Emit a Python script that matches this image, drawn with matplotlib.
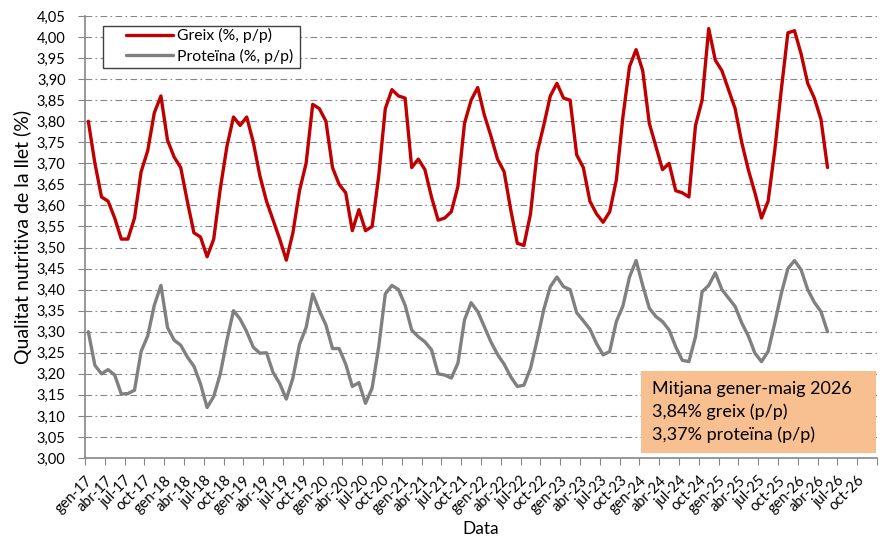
import matplotlib
matplotlib.use('Agg')
from matplotlib import pyplot as plt
from matplotlib.ticker import FuncFormatter
from matplotlib.patches import Rectangle
from matplotlib.transforms import ScaledTranslation

plt.rcParams['font.family'] = ['Lato', 'DejaVu Sans']

# Monthly values, gen-17 .. maig-26
greix = [
    3.80, 3.70, 3.62, 3.61, 3.57, 3.52, 3.52, 3.57, 3.68, 3.73, 3.82, 3.86,
    3.755, 3.715, 3.69, 3.61, 3.535, 3.525, 3.478, 3.52, 3.64, 3.74, 3.81, 3.79,
    3.81, 3.75, 3.67, 3.61, 3.565, 3.52, 3.47, 3.535, 3.635, 3.70, 3.84, 3.83,
    3.80, 3.69, 3.65, 3.63, 3.54, 3.59, 3.54, 3.55, 3.67, 3.83, 3.875, 3.86,
    3.855, 3.69, 3.71, 3.685, 3.62, 3.565, 3.57, 3.585, 3.645, 3.795, 3.85, 3.88,
    3.815, 3.765, 3.71, 3.68, 3.59, 3.51, 3.505, 3.58, 3.725, 3.79, 3.86, 3.89,
    3.855, 3.85, 3.72, 3.69, 3.61, 3.58, 3.56, 3.585, 3.66, 3.81, 3.93, 3.97,
    3.92, 3.795, 3.74, 3.685, 3.70, 3.635, 3.63, 3.62, 3.79, 3.85, 4.02, 3.945,
    3.92, 3.875, 3.83, 3.75, 3.685, 3.63, 3.57, 3.61, 3.73, 3.875, 4.01, 4.015,
    3.96, 3.89, 3.855, 3.805, 3.69,
]
proteina = [
    3.30, 3.22, 3.20, 3.21, 3.197, 3.152, 3.153, 3.161, 3.253, 3.29, 3.363, 3.41,
    3.31, 3.28, 3.268, 3.24, 3.218, 3.176, 3.12, 3.146, 3.20, 3.28, 3.35, 3.33,
    3.30, 3.263, 3.249, 3.25, 3.203, 3.177, 3.14, 3.19, 3.27, 3.31, 3.39, 3.35,
    3.316, 3.26, 3.26, 3.223, 3.17, 3.179, 3.13, 3.166, 3.264, 3.39, 3.41, 3.40,
    3.363, 3.304, 3.288, 3.276, 3.257, 3.20, 3.197, 3.19, 3.225, 3.328, 3.369, 3.348,
    3.312, 3.276, 3.246, 3.223, 3.193, 3.17, 3.173, 3.213, 3.28, 3.352, 3.407, 3.43,
    3.407, 3.40, 3.345, 3.326, 3.306, 3.272, 3.245, 3.253, 3.324, 3.361, 3.43, 3.469,
    3.41, 3.356, 3.336, 3.324, 3.304, 3.264, 3.232, 3.229, 3.288, 3.395, 3.41, 3.44,
    3.40, 3.38, 3.36, 3.321, 3.29, 3.249, 3.229, 3.253, 3.32, 3.391, 3.45, 3.469,
    3.447, 3.40, 3.37, 3.348, 3.30,
]
tick_months = ['gen', 'abr', 'jul', 'oct']
years = list(range(17, 27))
tick_labels = [f'{m}-{y}' for y in years for m in tick_months]
box_lines = ['Mitjana gener-maig 2026', '3,84% greix (p/p)', '3,37% proteïna (p/p)']

x = [i + 0.5 for i in range(len(greix))]

fig = plt.figure(figsize=(8.8, 5.38), dpi=100)
ax = fig.add_axes([0.0966, 0.1487, 0.9, 0.8216])

ax.plot(x, greix, color='#C00000', lw=2.4, label='Greix (%, p/p)',
        solid_joinstyle='round', solid_capstyle='round', zorder=3)
ax.plot(x, proteina, color='#808080', lw=2.4, label='Proteïna (%, p/p)',
        solid_joinstyle='round', solid_capstyle='round', zorder=3)

ax.set_xlim(0, 120)
ax.set_ylim(3.0, 4.05)
ax.set_yticks([3.0 + 0.05 * k for k in range(22)])
ax.yaxis.set_major_formatter(FuncFormatter(lambda v, p: f'{v:.2f}'.replace('.', ',')))
ax.set_xticks(list(range(0, 121, 3)))
ax.set_xticklabels(tick_labels + [''], rotation=45, ha='right',
                   rotation_mode='anchor', fontsize=10.5)
shift = ScaledTranslation(5 / 100, 0, fig.dpi_scale_trans)
for lab in ax.get_xticklabels():
    lab.set_transform(lab.get_transform() + shift)
ax.tick_params(axis='y', labelsize=10.5, length=5, color='#868686', pad=9)
ax.tick_params(axis='x', length=5, color='#868686', pad=6)

ax.grid(axis='y', color='#868686', lw=0.8, ls=(0, (6, 3, 1.5, 3)))
for s in ['top', 'right']:
    ax.spines[s].set_visible(False)
for s in ['left', 'bottom']:
    ax.spines[s].set_color('#868686')
    ax.spines[s].set_linewidth(1.2)

ax.set_ylabel('Qualitat nutritiva de la llet (%)', fontsize=14, labelpad=3)
ax.set_xlabel('Data', fontsize=12.5, va='center')
ax.xaxis.set_label_coords(0.5, -0.161)

# legend with its own frame
ax.add_patch(Rectangle((0.0227, 0.8824), 0.2488, 0.095, transform=ax.transAxes,
                       facecolor='white', edgecolor='#404040', lw=1.0, zorder=4))
leg = ax.legend(loc='upper left', bbox_to_anchor=(0.052, 0.972), fontsize=11.3,
                handlelength=3.0, handletextpad=0.25, frameon=False,
                borderpad=0, labelspacing=0.35, borderaxespad=0)
leg.set_zorder(5)

ax.add_patch(Rectangle((0.702, 0.011), 0.297, 0.186, transform=ax.transAxes,
                       facecolor='#F8BF90', edgecolor='none', zorder=4))
ax.text(0.716, 0.104, '\n'.join(box_lines), transform=ax.transAxes,
        fontsize=13, va='center', ha='left', linespacing=1.45, zorder=5)

fig.savefig('out.png', dpi=100)
